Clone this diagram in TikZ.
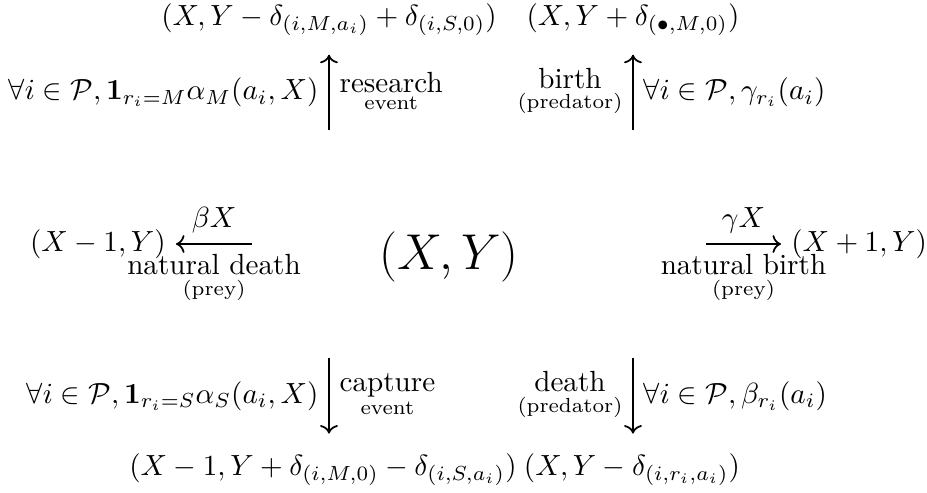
\documentclass[tikz,border=0pt]{standalone}
\usepackage{amsmath}
\usetikzlibrary{arrows.meta}

\tikzset{
  st/.style={inner xsep=3.33pt, inner ysep=6.5pt, text height=7.5pt, text depth=3.5pt},
  evt/.style={->, line width=0.6pt},
}

\begin{document}
\begin{tikzpicture}[x=0.343pt, y=-0.343pt]
\useasboundingbox (0,0) rectangle (927,493);

% Centre state
\node[font=\LARGE] (c) at (449,257) {$(X,Y)$};

% Neighbouring states
\node[st, anchor=base] (tl) at (329,25) {$(X,Y-\delta_{(i,M,a_i)}+\delta_{(i,S,0)})$};
\node[st, anchor=base] (tr) at (633,25) {$(X,Y+\delta_{(\bullet,M,0)})$};
\node[st, anchor=base] (bl) at (323,475) {$(X-1,Y+\delta_{(i,M,0)}-\delta_{(i,S,a_i)})$};
\node[st, anchor=base] (br) at (632,475) {$(X,Y-\delta_{(i,r_i,a_i)})$};
\node[anchor=east] (l) at (176,244) {$(X-1,Y)$};
\node[anchor=west] (r) at (781,244) {$(X+1,Y)$};

% Arrow tails
\coordinate (ul) at (329,130);
\coordinate (ur) at (633,130);
\coordinate (dl) at (329,358);
\coordinate (dr) at (633,358);
\coordinate (hl) at (252,244);
\coordinate (hr) at (706,244);

% Predator transitions
\draw[evt] (ul) -- (tl)
  node[midway, left] {$\forall i\in\mathcal{P},\mathbf{1}_{r_i=M}\alpha_M(a_i,X)$}
  node[midway, right] {$\underset{\text{event}}{\text{research}}$};
\draw[evt] (ur) -- (tr)
  node[midway, left] {$\underset{\text{(predator)}}{\text{birth}}$}
  node[midway, right] {$\forall i\in\mathcal{P},\gamma_{r_i}(a_i)$};
\draw[evt] (dl) -- (dl |- bl.north)
  node[midway, left] {$\forall i\in\mathcal{P},\mathbf{1}_{r_i=S}\alpha_S(a_i,X)$}
  node[midway, right] {$\underset{\text{event}}{\text{capture}}$};
\draw[evt] (dr) -- (dr |- br.north)
  node[midway, left] {$\underset{\text{(predator)}}{\text{death}}$}
  node[midway, right] {$\forall i\in\mathcal{P},\beta_{r_i}(a_i)$};

% Prey transitions
\draw[evt] (hl) -- (l)
  node[midway, above] {$\beta X$}
  node[midway, below] {$\underset{\text{(prey)}}{\text{natural death}}$};
\draw[evt] (hr) -- (r)
  node[midway, above] {$\gamma X$}
  node[midway, below] {$\underset{\text{(prey)}}{\text{natural birth}}$};

\end{tikzpicture}
\end{document}
